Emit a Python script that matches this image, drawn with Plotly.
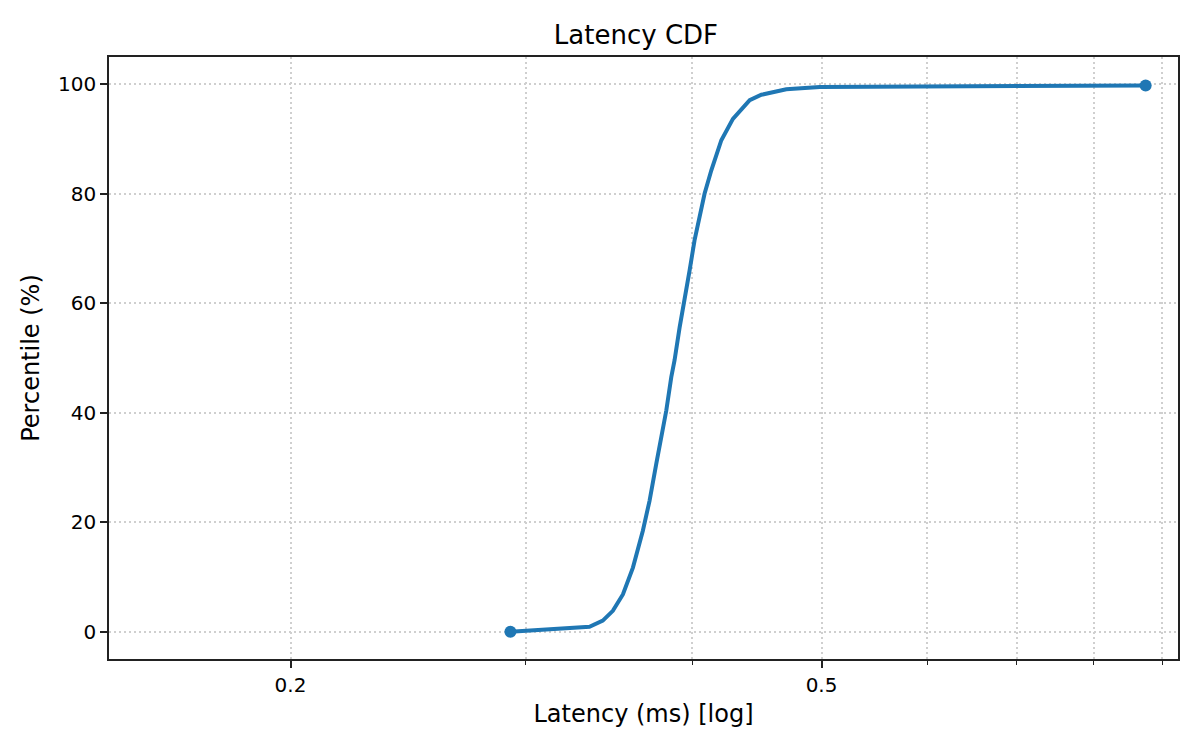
import plotly.graph_objects as go

latency_ms = [0.2923, 0.3350, 0.3428, 0.3488, 0.3549, 0.3611, 0.3673, 0.3716,
              0.3759, 0.3792, 0.3825, 0.3858, 0.3880, 0.3914, 0.3948, 0.3982,
              0.4016, 0.4051, 0.4086, 0.4134, 0.4206, 0.4291, 0.4417, 0.4507,
              0.4705, 0.4984, 0.8747]
percentile = [0, 0.9, 2.0, 3.8, 6.8, 11.7, 18.4, 23.9,
              30.6, 35.5, 40.4, 46.5, 49.6, 55.6, 60.5, 66.0,
              71.5, 75.7, 80.0, 84.3, 89.8, 93.7, 97.1, 98.1,
              99.1, 99.5, 99.8]

x_major = [0.2, 0.5]
x_major_text = ["0.2", "0.5"]
x_minor = [0.3, 0.4, 0.6, 0.7, 0.8, 0.9]
y_ticks = [0, 20, 40, 60, 80, 100]

blue = "#1f77b4"
grid = "#cfcfcf"
dots = "2px,3px"

fig = go.Figure()

# the cdf line
fig.add_trace(go.Scatter(x=latency_ms, y=percentile, mode="lines",
                         line=dict(color=blue, width=4), showlegend=False))

# dots at the min and max sample
fig.add_trace(go.Scatter(x=[latency_ms[0], latency_ms[-1]],
                         y=[percentile[0], percentile[-1]], mode="markers",
                         marker=dict(color=blue, size=12), showlegend=False))

font = "DejaVu Sans"
# page body adds ~8px offset, margins compensate for it
fig.update_layout(
    width=1200, height=750,
    plot_bgcolor="white", paper_bgcolor="white",
    margin=dict(l=101, r=30, t=49, b=99),
    font=dict(family=font, color="black", size=20),
    title=dict(text="Latency CDF", x=0.5233, xanchor="center", y=0.964,
               yanchor="middle", font=dict(size=26)),
)

fig.update_xaxes(
    type="log", range=[-0.835, -0.0339],
    tickmode="array", tickvals=x_major, ticktext=x_major_text,
    ticks="outside", ticklen=7, tickwidth=1.6, tickcolor="#222",
    showgrid=True, gridcolor=grid, griddash=dots, gridwidth=1.5,
    minor=dict(tickmode="array", tickvals=x_minor, ticks="outside",
               ticklen=4, tickwidth=1.2, tickcolor="#222",
               showgrid=True, gridcolor=grid, griddash=dots, gridwidth=1.5),
    showline=True, linecolor="#222", linewidth=1.6, mirror=True,
    zeroline=False,
    title=dict(text="Latency (ms) [log]", font=dict(size=24), standoff=9),
)

fig.update_yaxes(
    range=[-5, 105], tickmode="array", tickvals=y_ticks,
    ticks="outside", ticklen=7, tickwidth=1.6, tickcolor="#222",
    showgrid=True, gridcolor=grid, griddash=dots, gridwidth=1.5,
    showline=True, linecolor="#222", linewidth=1.6, mirror=True,
    zeroline=False,
    title=dict(text="Percentile (%)", font=dict(size=24), standoff=12),
)

fig.write_html("out.html")
